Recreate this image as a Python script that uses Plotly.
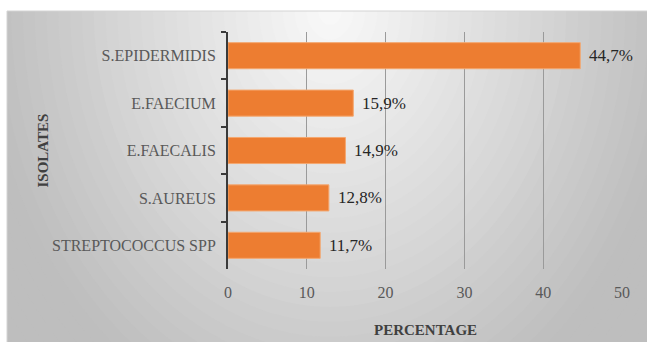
import plotly.graph_objects as go

# Isolates (top to bottom) and their share in percent
isolates = ["S.EPIDERMIDIS", "E.FAECIUM", "E.FAECALIS", "S.AUREUS", "STREPTOCOCCUS SPP"]
percentages = [44.7, 15.9, 14.9, 12.8, 11.7]
x_ticks = [0, 10, 20, 30, 40, 50]

SERIF = "Liberation Serif, Times New Roman, serif"

W, H = 647, 342
ML, MR, MT, MB = 228, 25, 32, 73
PW, PH = W - ML - MR, H - MT - MB


def px_x(px):
    return (px - ML) / PW


def px_y(py):
    return (H - MB - py) / PH


def gray(t):
    light, dark = 250, 190
    t = max(0.0, min(1.0, t))
    v = round(light + (dark - light) * t)
    return f"rgb({v},{v},{v})"


# Radial background panel (light near the top centre, darker toward the edges)
shapes = []
cx, cy, rx, ry = 330, 10, 350, 440
n = 40
for k in range(n, 0, -1):
    r = 1.35 * k / n
    shapes.append(dict(
        type="circle", xref="paper", yref="paper", layer="below",
        x0=px_x(cx - rx * r), x1=px_x(cx + rx * r),
        y0=px_y(cy + ry * r), y1=px_y(cy - ry * r),
        fillcolor=gray(r), line=dict(width=0),
    ))
# white page outside the panel
shapes.append(dict(type="rect", xref="paper", yref="paper", layer="below",
                   x0=px_x(-5), x1=px_x(W + 5), y0=px_y(11), y1=px_y(-5),
                   fillcolor="white", line=dict(width=0)))
shapes.append(dict(type="rect", xref="paper", yref="paper", layer="below",
                   x0=px_x(-5), x1=px_x(7), y0=px_y(H + 5), y1=px_y(-5),
                   fillcolor="white", line=dict(width=0)))
# thin frame of the panel
shapes.append(dict(type="rect", xref="paper", yref="paper", layer="below",
                   x0=px_x(7), x1=px_x(W + 3), y0=px_y(H + 3), y1=px_y(11),
                   fillcolor="rgba(0,0,0,0)", line=dict(width=1, color="#d4d4d4")))

fig = go.Figure(go.Bar(
    x=percentages, y=isolates, orientation="h",
    marker=dict(color="#ED7D31", line=dict(color="#F4A76F", width=1)),
    hoverinfo="skip",
))

annotations = []
for name, v in zip(isolates, percentages):
    annotations.append(dict(
        x=v, y=name, xref="x", yref="y", xanchor="left", yanchor="middle",
        xshift=7, showarrow=False,
        text=f"{v:.1f}".replace(".", ",") + "%",
        font=dict(family=SERIF, size=17, color="#262626"),
    ))

annotations.append(dict(
    x=0.5, y=px_y(330), xref="paper", yref="paper", showarrow=False,
    xanchor="center", yanchor="middle", text="<b>PERCENTAGE</b>",
    font=dict(family=SERIF, size=15, color="#404040"),
))
annotations.append(dict(
    x=px_x(42), y=0.5, xref="paper", yref="paper", showarrow=False,
    xanchor="center", yanchor="middle", text="<b>ISOLATES</b>", textangle=-90,
    font=dict(family=SERIF, size=15, color="#404040"),
))

fig.update_layout(
    width=W, height=H,
    margin=dict(l=ML, r=MR, t=MT, b=MB),
    paper_bgcolor="white", plot_bgcolor="rgba(0,0,0,0)",
    bargap=0.45, showlegend=False,
    separators=", ",
    font=dict(family=SERIF),
    shapes=shapes, annotations=annotations,
    xaxis=dict(
        range=[0, 50], tickvals=x_ticks, showgrid=True, gridcolor="#9a9a9a",
        gridwidth=1, zeroline=False, showline=False, ticks="",
        ticklabelstandoff=12,
        tickfont=dict(family=SERIF, size=16, color="#595959"),
    ),
    yaxis=dict(
        autorange="reversed", showgrid=False, showline=True, linecolor="#3a3a3a",
        linewidth=2, ticks="outside", ticklen=5, tickwidth=2, tickcolor="#3a3a3a",
        tickson="boundaries", ticklabelstandoff=7,
        tickfont=dict(family=SERIF, size=16, color="#595959"),
    ),
)

fig.write_html("out.html")
